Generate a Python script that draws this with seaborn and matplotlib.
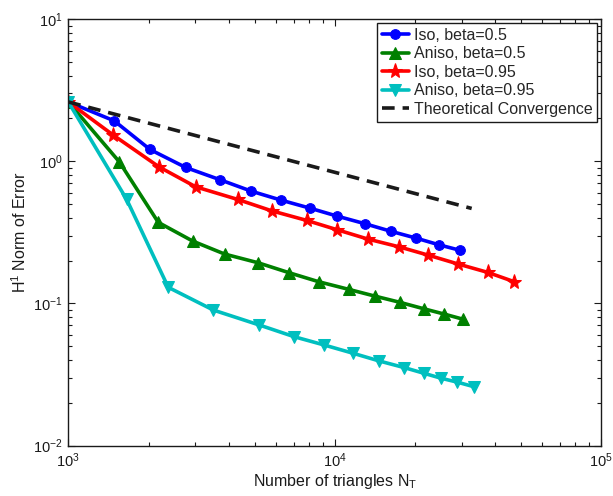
import numpy as np
import pandas as pd
import matplotlib
matplotlib.use("Agg")
import matplotlib.pyplot as plt
import seaborn as sns

# ---- data ----
iso05_x = [1000, 1488, 2026, 2757, 3719, 4861, 6284, 8072, 10188, 13015, 16293, 20169, 24604, 29570]
iso05_y = [2.61, 1.92, 1.208, 0.903, 0.739, 0.615, 0.532, 0.467, 0.411, 0.3625, 0.3206, 0.2877, 0.258, 0.2358]

aniso05_x = [1000, 1554, 2176, 2930, 3863, 5150, 6750, 8700, 11278, 14115, 17568, 21560, 25700, 30360]
aniso05_y = [2.61, 0.989, 0.371, 0.274, 0.222, 0.193, 0.164, 0.1419, 0.1254, 0.1125, 0.1016, 0.0916, 0.0841, 0.0772]

iso095_x = [1000, 1476, 2189, 3006, 4321, 5798, 7845, 10219, 13322, 17414, 22372, 29060, 37480, 47150]
iso095_y = [2.61, 1.523, 0.912, 0.66, 0.538, 0.4474, 0.383, 0.329, 0.283, 0.2498, 0.2185, 0.1889, 0.1651, 0.1419]

aniso095_x = [1000, 1656, 2372, 3500, 5208, 7047, 9132, 11731, 14690, 18233, 21615, 25094, 28822, 33290]
aniso095_y = [2.61, 0.538, 0.1296, 0.0897, 0.0704, 0.0582, 0.0509, 0.0445, 0.0393, 0.0353, 0.0322, 0.0297, 0.0279, 0.0259]

theory_x = [1000, 32630]
theory_y = [2.61, 0.465]

labels = ["Iso, beta=0.5", "Aniso, beta=0.5", "Iso, beta=0.95", "Aniso, beta=0.95", "Theoretical Convergence"]

sns.set_theme(style="white")
plt.rcParams['font.family'] = ['Liberation Sans', 'DejaVu Sans']
plt.rcParams['mathtext.default'] = 'regular'
plt.rcParams['mathtext.fontset'] = 'custom'
plt.rcParams['mathtext.rm'] = 'Liberation Sans'
plt.rcParams['mathtext.it'] = 'Liberation Sans'

fig = plt.figure(figsize=(6.13, 4.96), dpi=100)
ax = fig.add_axes([68.3/613, 1-445.5/496, (601.3-68.3)/613, (445.5-19)/496])

series = [
    (iso05_x, iso05_y, labels[0], (0, 0, 1), 'o', 7),
    (aniso05_x, aniso05_y, labels[1], (0, 0.5, 0), '^', 8),
    (iso095_x, iso095_y, labels[2], (1, 0, 0), '*', 11),
    (aniso095_x, aniso095_y, labels[3], (0, 0.75, 0.75), 'v', 8),
]
for xs, ys, lab, col, mk, ms in series:
    df = pd.DataFrame({"x": xs, "y": ys})
    sns.lineplot(data=df, x="x", y="y", ax=ax, color=col, lw=2.6, marker=mk,
                 markersize=ms, markeredgecolor=col, markerfacecolor=col,
                 label=lab, estimator=None, sort=False)

dft = pd.DataFrame({"x": theory_x, "y": theory_y})
sns.lineplot(data=dft, x="x", y="y", ax=ax, color='k', lw=2.6, linestyle=(0, (3.5, 2.2)),
             label=labels[4], estimator=None, sort=False)

ax.set_xscale('log')
ax.set_yscale('log')
ax.set_xlim(1e3, 1e5)
ax.set_ylim(1e-2, 1e1)

ax.set_xlabel("Number of triangles N$_T$", fontsize=11.5, color='k', labelpad=2)
ax.set_ylabel("H$^1$ Norm of Error", fontsize=11.5, color='k', labelpad=3)

ax.tick_params(which='both', direction='in', bottom=True, left=True, top=True, right=True,
               colors='k', labelsize=10.5)
ax.tick_params(which='major', length=5, width=0.8, pad=4)
ax.tick_params(which='minor', length=3, width=0.8)
ax.minorticks_on()
for sp in ax.spines.values():
    sp.set_color('k')
    sp.set_linewidth(1.0)

leg = ax.legend(loc='upper right', fontsize=11.5, frameon=True, fancybox=False,
                edgecolor='k', framealpha=1, borderpad=0.3, labelspacing=0.22,
                handlelength=1.7, handletextpad=0.3, borderaxespad=0.25)
leg.get_frame().set_linewidth(1.0)

fig.savefig("out.png", dpi=100)
